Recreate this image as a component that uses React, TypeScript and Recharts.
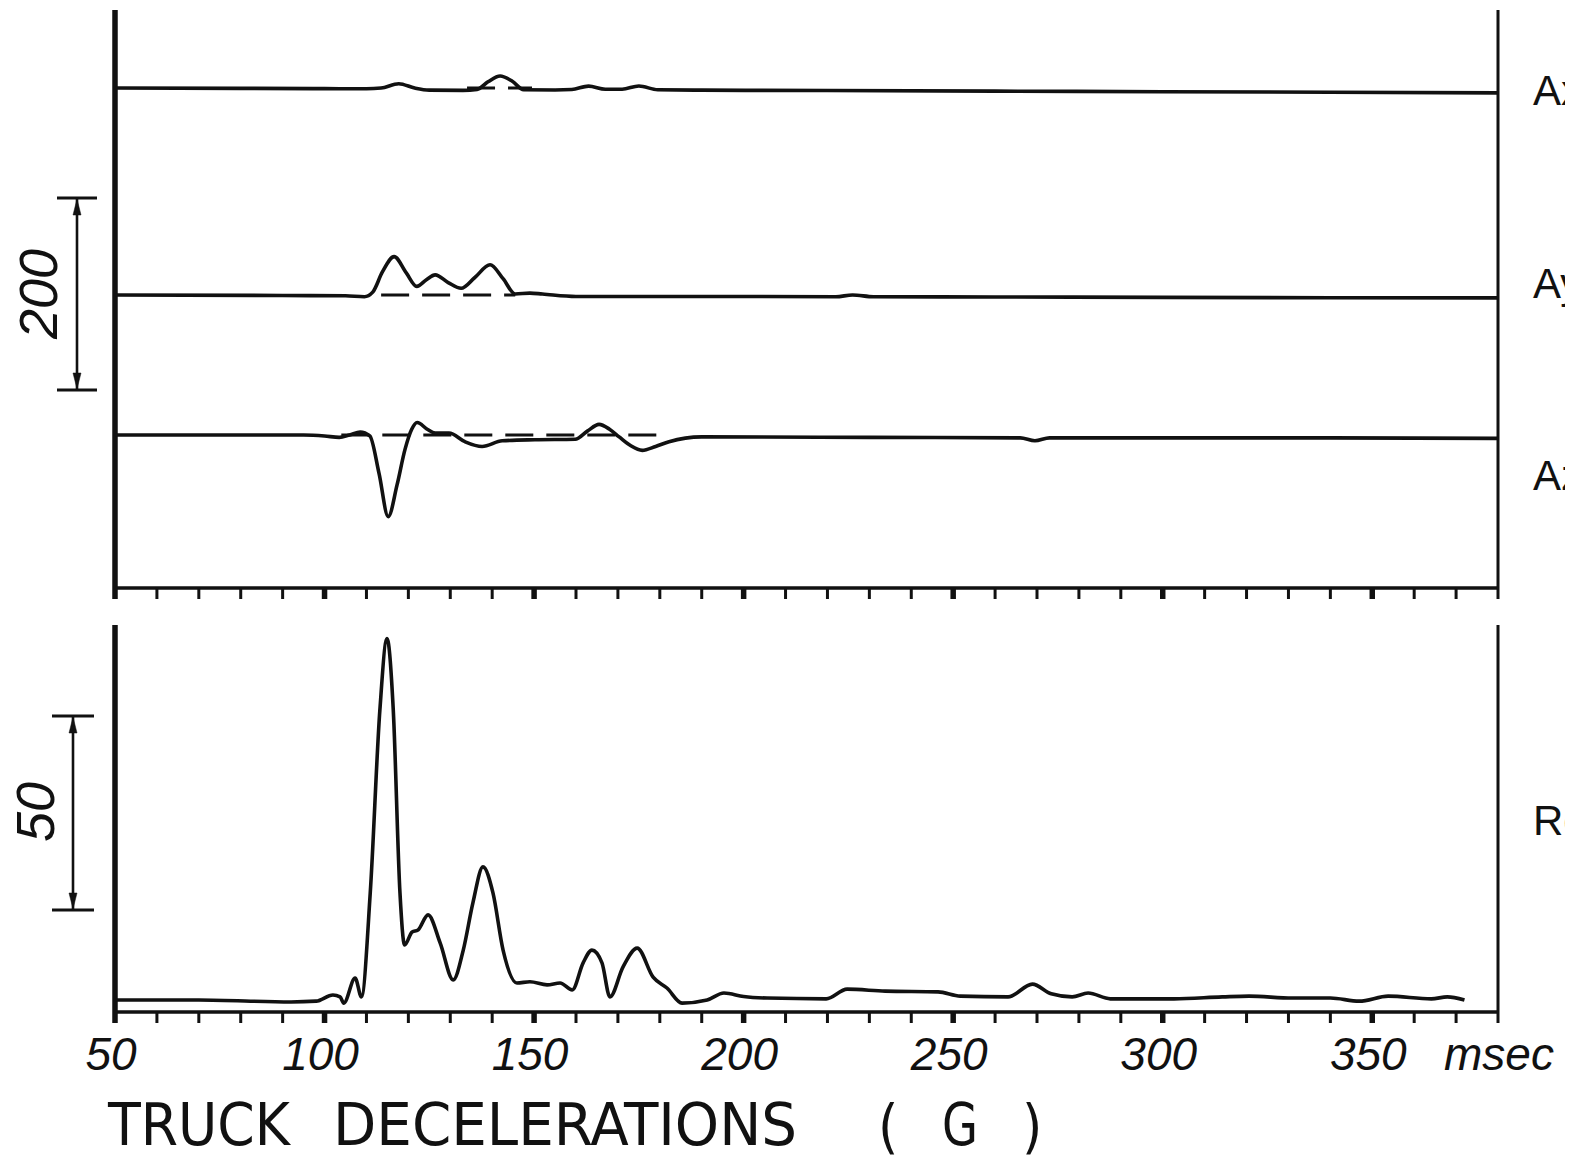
import React from "react";
import { ComposedChart, Line, XAxis, YAxis, ReferenceLine } from "recharts";

// time axis (msec)
const TIME_TICKS = [
  50, 60, 70, 80, 90, 100, 110, 120, 130, 140, 150, 160, 170, 180, 190, 200, 210,
  220, 230, 240, 250, 260, 270, 280, 290, 300, 310, 320, 330, 340, 350, 360, 370, 380,
];
const TIME_LABELS = [50, 100, 150, 200, 250, 300, 350];

// [msec, G]
const AX_PTS = [
  [50, 0], [80, -0.3], [100, -0.6], [110, -0.8], [113.5, 0], [117.7, 4.5], [121.5, 0],
  [125, -2.2], [133, -2.4], [136.4, -1.5], [139, 6.5], [141.9, 12.5], [144.8, 7],
  [147.5, -1.8], [155, -2], [159, -1.5], [163, 2], [167, -1.2], [171, -1.2], [175, 2.2],
  [179.5, -1.8], [190, -2.2], [220, -2.6], [260, -3.2], [300, -3.8], [340, -4.4], [380, -5],
];
const AY_PTS = [
  [50, 0], [90, -0.5], [105, -0.8], [109.5, -1.8], [111.5, 3], [113.8, 24], [116.6, 40],
  [119.5, 23], [122, 9], [124.3, 16], [126.4, 21], [129.5, 13], [132.6, 7], [135.8, 18],
  [139.5, 31.5], [142.6, 17], [145.5, 1], [149, 2], [152, 1], [160, -1.5], [170, -1.5],
  [200, -1.5], [222, -1.8], [226, 0], [231, -1.8], [260, -2], [300, -2.5], [340, -2.8], [380, -3],
];
const AZ_PTS = [
  [50, 0], [95, 0], [100, -1], [103.5, -2.5], [106, 0], [108.5, 3], [110.8, -1], [113, -40],
  [115.2, -85], [117.3, -52], [119.2, -15], [120.8, 6], [122.1, 13], [124.5, 6], [126.4, 2],
  [129.7, 2], [133.5, -7], [137.6, -12], [142.4, -6], [150.2, -5], [159.8, -4.5], [162.7, 4],
  [165.5, 11], [168, 6], [170.3, -2], [173, -11], [175.8, -16], [179, -12], [182.2, -7],
  [190, -2], [230, -2.5], [266, -3], [269.5, -6], [273, -3], [300, -3], [340, -3], [380, -3.5],
];
const RES_PTS = [
  [50, 3.1], [70, 3.1], [92, 2.6], [98, 2.8], [102, 4.4], [103.7, 3.9], [104.6, 2.3],
  [107.3, 8.8], [108.8, 3.9], [110.9, 30.7], [113.2, 78], [114.9, 96.5], [116.4, 78],
  [118, 30.7], [119.1, 17.3], [120.9, 20.7], [122.3, 21.2], [124.7, 25.1], [127.6, 17.8],
  [130.7, 8.3], [133.1, 16], [135.4, 28.2], [137.8, 37.5], [140.2, 30.7], [142.6, 16],
  [145.9, 7.5], [149, 7.8], [153.1, 7], [156.2, 7.5], [159.1, 5.7], [161.7, 12.7],
  [163.8, 16], [166.2, 12.7], [168.1, 3.9], [171.2, 11.6], [174.6, 16.5], [178.4, 9],
  [181.7, 6.2], [185.3, 2.3], [191.3, 3.1], [195.3, 4.9], [200, 4], [205.6, 3.6],
  [219.7, 3.4], [224.7, 5.9], [233.8, 5.4], [246.4, 5.2], [251.7, 4.1], [263.1, 3.9],
  [268.9, 7.2], [273.4, 4.7], [278.4, 3.9], [282.2, 4.9], [287.5, 3.4], [302.7, 3.4],
  [314.2, 3.9], [320.6, 4.1], [330.9, 3.6], [340, 3.6], [346.9, 2.8], [353.8, 4.1],
  [364.1, 3.4], [367.9, 3.9], [372, 3.1],
];

// dashed zero reference under each active region (msec span)
const AX_DASH = [134, 149.5];
const AY_DASH = [113.5, 145.5];
const AZ_DASH = [104, 181];

// y windows so each trace sits on its own baseline (200 G = 192 px)
const AX_DOMAIN = [-520.8, 81.3];
const AY_DOMAIN = [-305.2, 296.9];
const AZ_DOMAIN = [-159.4, 442.7];
const RES_DOMAIN = [0, 100];

const INK = "#111";
const SANS = "'Liberation Sans', Arial, sans-serif";
const NARROW = "'Liberation Sans Narrow', 'DejaVu Sans Condensed', 'Liberation Sans', sans-serif";

const toRows = (pts: number[][]) => pts.map(([t, g]) => ({ t, g }));
const dashRows = (span: number[]) => span.map((t) => ({ t, g: 0 }));

function TimeTick(props: any) {
  const { x, y, payload, labelled } = props;
  const v = payload.value;
  const major = v % 50 === 0;
  return (
    <g>
      <line x1={x} x2={x} y1={y} y2={y + 11} stroke={INK} strokeWidth={major ? 5.5 : 3} />
      {labelled && TIME_LABELS.includes(v) && (
        <text x={x - 4} y={y + 58} textAnchor="middle" fontFamily={SANS} fontStyle="italic" fontSize={46} fill={INK}>
          {v}
        </text>
      )}
    </g>
  );
}

function trace(id: string, pts: number[][]) {
  return (
    <Line
      data={toRows(pts)}
      dataKey="g"
      yAxisId={id}
      type="monotone"
      stroke={INK}
      strokeWidth={3.6}
      dot={false}
      activeDot={false}
      isAnimationActive={false}
    />
  );
}

function dash(id: string, span: number[]) {
  return (
    <Line
      data={dashRows(span)}
      dataKey="g"
      yAxisId={id}
      type="linear"
      stroke={INK}
      strokeWidth={3}
      strokeDasharray="28 13"
      dot={false}
      activeDot={false}
      isAnimationActive={false}
    />
  );
}

function TopPanel() {
  return (
    <ComposedChart width={1573} height={620} margin={{ top: 10, right: 75, bottom: 2, left: 115 }}>
      <XAxis
        dataKey="t"
        type="number"
        domain={[50, 380]}
        ticks={TIME_TICKS}
        interval={0}
        height={30}
        tickSize={0}
        tickMargin={0}
        tickLine={false}
        axisLine={{ stroke: INK, strokeWidth: 3.5 }}
        tick={(p: any) => <TimeTick {...p} />}
        allowDataOverflow
      />
      <XAxis xAxisId="top" orientation="top" type="number" domain={[50, 380]} height={0} tick={false} tickLine={false} axisLine={{ stroke: INK, strokeWidth: 3 }} />
      <YAxis yAxisId="ax" hide type="number" domain={AX_DOMAIN} allowDataOverflow />
      <YAxis yAxisId="ay" hide type="number" domain={AY_DOMAIN} allowDataOverflow />
      <YAxis yAxisId="az" hide type="number" domain={AZ_DOMAIN} allowDataOverflow />
      <ReferenceLine x={50} yAxisId="ax" stroke={INK} strokeWidth={5.5} />
      <ReferenceLine x={380} yAxisId="ax" stroke={INK} strokeWidth={3} />
      {dash("ax", AX_DASH)}
      {dash("ay", AY_DASH)}
      {dash("az", AZ_DASH)}
      {trace("ax", AX_PTS)}
      {trace("ay", AY_PTS)}
      {trace("az", AZ_PTS)}
    </ComposedChart>
  );
}

function BottomPanel() {
  return (
    <ComposedChart width={1573} height={500} margin={{ top: 25, right: 75, bottom: 0, left: 115 }}>
      <XAxis
        dataKey="t"
        type="number"
        domain={[50, 380]}
        ticks={TIME_TICKS}
        interval={0}
        height={88}
        tickSize={0}
        tickMargin={0}
        tickLine={false}
        axisLine={{ stroke: INK, strokeWidth: 3.5 }}
        tick={(p: any) => <TimeTick {...p} labelled />}
        allowDataOverflow
      />
      <XAxis xAxisId="top" orientation="top" type="number" domain={[50, 380]} height={0} tick={false} tickLine={false} axisLine={{ stroke: INK, strokeWidth: 3 }} />
      <YAxis yAxisId="res" hide type="number" domain={RES_DOMAIN} allowDataOverflow />
      <ReferenceLine x={50} yAxisId="res" stroke={INK} strokeWidth={5.5} />
      <ReferenceLine x={380} yAxisId="res" stroke={INK} strokeWidth={3} />
      {trace("res", RES_PTS)}
    </ComposedChart>
  );
}

function ScaleBar({ x, y1, y2, half }: { x: number; y1: number; y2: number; half: number }) {
  return (
    <g stroke={INK} fill={INK}>
      <line x1={x - half} x2={x + half} y1={y1} y2={y1} strokeWidth={3} />
      <line x1={x - half} x2={x + half} y1={y2} y2={y2} strokeWidth={3} />
      <line x1={x} x2={x} y1={y1} y2={y2} strokeWidth={2.6} />
      <path d={`M${x} ${y1 + 1} L${x - 4} ${y1 + 17} L${x + 4} ${y1 + 17} Z`} strokeWidth={0.5} />
      <path d={`M${x} ${y2 - 1} L${x - 4} ${y2 - 17} L${x + 4} ${y2 - 17} Z`} strokeWidth={0.5} />
    </g>
  );
}

function Annotations() {
  return (
    <svg width={1573} height={1164} style={{ position: "absolute", left: 0, top: 0, pointerEvents: "none" }}>
      <ScaleBar x={77} y1={198} y2={390} half={20} />
      <text transform="translate(57 294) rotate(-90)" textAnchor="middle" fontFamily={SANS} fontStyle="italic" fontSize={54} fill={INK}>
        200
      </text>
      <ScaleBar x={73} y1={716} y2={910} half={21} />
      <text transform="translate(54 812) rotate(-90)" textAnchor="middle" fontFamily={SANS} fontStyle="italic" fontSize={54} fill={INK}>
        50
      </text>

      <g fontFamily={SANS} fontSize={42} fill={INK}>
        <text x={1533} y={105}>Ax</text>
        <text x={1533} y={298}>Ay</text>
        <text x={1533} y={490}>Az</text>
        <text x={1533} y={835}>Res</text>
      </g>

      <text x={1444} y={1070} fontFamily={SANS} fontStyle="italic" fontSize={46} fill={INK}>
        msec
      </text>

      <g fontFamily={NARROW} fontSize={58} fill={INK}>
        <text x={108} y={1145} textLength={182} lengthAdjust="spacingAndGlyphs">TRUCK</text>
        <text x={333} y={1145} textLength={464} lengthAdjust="spacingAndGlyphs">DECELERATIONS</text>
        <text x={878} y={1147}>(</text>
        <text x={942} y={1145} textLength={36} lengthAdjust="spacingAndGlyphs">G</text>
        <text x={1022} y={1147}>)</text>
      </g>
    </svg>
  );
}

export default function App() {
  return (
    <div style={{ position: "relative", width: 1573, height: 1164, margin: -8, overflow: "hidden", background: "#fff" }}>
      <div style={{ position: "absolute", left: 0, top: 0 }}>
        <TopPanel />
      </div>
      <div style={{ position: "absolute", left: 0, top: 600 }}>
        <BottomPanel />
      </div>
      <Annotations />
    </div>
  );
}
